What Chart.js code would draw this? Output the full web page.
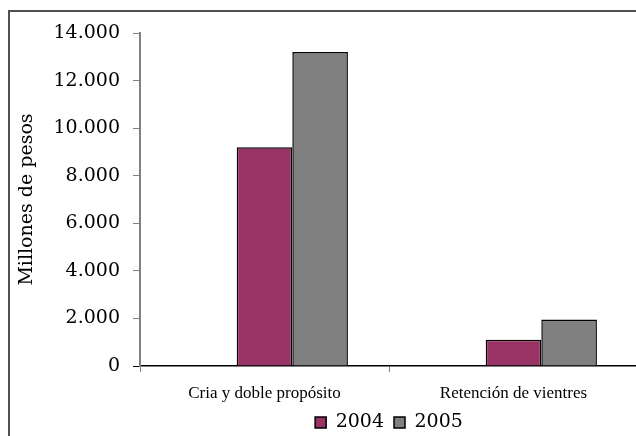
<!DOCTYPE html>
<html>
<head>
<meta charset="utf-8">
<script src="https://cdn.jsdelivr.net/npm/chart.js@4/dist/chart.umd.min.js"></script>
<style>
  body { margin: 0; background: #fff; overflow: hidden; }
  #frame { position: absolute; left: 8px; top: 10px; width: 700px; height: 500px; border: 2px solid #505050; }
  #chart { position: absolute; left: 0; top: 0; }
</style>
</head>
<body>
<div id="frame"></div>
<canvas id="chart" width="640" height="436"></canvas>
<script>
// Data
const categories = ['Cria y doble propósito', 'Retención de vientres'];
const years = ['2004', '2005'];
const values2004 = [9200, 1100];
const values2005 = [13200, 1950];
const yTicks = [0, 2000, 4000, 6000, 8000, 10000, 12000, 14000];

const colors = ['#993366', '#808080'];

// format 14000 -> 14.000
function fmt(v) {
  return String(v).replace(/\B(?=(\d{3})+(?!\d))/g, '.');
}

const ctx = document.getElementById('chart').getContext('2d');
new Chart(ctx, {
  type: 'bar',
  data: {
    labels: categories,
    datasets: [
      // empty slot so the pair of bars sits right of the category centre, like the original
      { label: '', data: [null, null], backgroundColor: 'rgba(0,0,0,0)' },
      { label: years[0], data: values2004, backgroundColor: colors[0], borderColor: '#000', borderWidth: 1.5 },
      { label: years[1], data: values2005, backgroundColor: colors[1], borderColor: '#000', borderWidth: 1.5 }
    ]
  },
  options: {
    responsive: false,
    animation: false,
    devicePixelRatio: 1,
    layout: { padding: { top: 33, left: 8, right: 2, bottom: -6 } },
    datasets: {
      bar: { categoryPercentage: 0.67, barPercentage: 1 }
    },
    plugins: {
      tooltip: { enabled: false },
      legend: {
        position: 'bottom',
        fullSize: false,
        labels: {
          font: { family: 'DejaVu Serif', size: 19 },
          color: '#000',
          boxWidth: 11,
          boxHeight: 11,
          padding: 10,
          filter: item => item.datasetIndex !== 0
        }
      }
    },
    scales: {
      x: {
        afterFit: scale => { scale.height = 37; },
        grid: { drawOnChartArea: false, offset: true, tickLength: 6, color: '#808080' },
        border: { color: '#000', width: 1.5 },
        ticks: {
          font: { family: 'Liberation Serif', size: 17 },
          color: '#000',
          padding: 11,
          maxRotation: 0
        }
      },
      y: {
        min: 0,
        max: 14000,
        afterFit: scale => { scale.width = 132; },
        afterBuildTicks: scale => { scale.ticks = yTicks.map(v => ({ value: v })); },
        grid: {
          drawOnChartArea: false,
          tickLength: 7,
          color: c => (c.tick && c.tick.value === 0 ? '#000' : '#808080')
        },
        border: { color: '#808080', width: 2 },
        ticks: {
          font: { family: 'DejaVu Serif', size: 19 },
          color: '#000',
          padding: 13,
          callback: v => fmt(v)
        },
        title: {
          display: true,
          text: 'Millones de pesos',
          font: { family: 'DejaVu Serif', size: 19 },
          color: '#000',
          padding: { top: 8, bottom: 0 }
        }
      }
    }
  }
});
</script>
</body>
</html>
